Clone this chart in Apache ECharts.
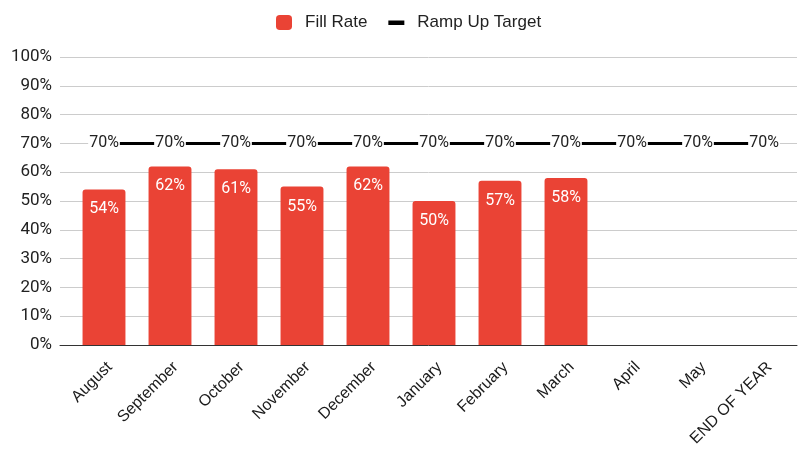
<!DOCTYPE html>
<html>
<head>
<meta charset="utf-8">
<script src="https://cdn.jsdelivr.net/npm/echarts@6/dist/echarts.min.js"></script>
<style>
  html, body { margin: 0; padding: 0; background: #fff; }
  #container { width: 798px; height: 451px; }
</style>
</head>
<body>
<div id="container"></div>
<script>
var months = ['August', 'September', 'October', 'November', 'December', 'January',
  'February', 'March', 'April', 'May', 'END OF YEAR'];
var fillRate = [54, 62, 61, 55, 62, 50, 57, 58, null, null, null];
var rampTarget = [70, 70, 70, 70, 70, 70, 70, 70, 70, 70, 70];
var yTicks = [0, 10, 20, 30, 40, 50, 60, 70, 80, 90, 100];

var dom = document.getElementById('container');
var myChart = echarts.init(dom);

var yMin = yTicks[0];
var yMax = yTicks[yTicks.length - 1];

var option = {
  animation: false,
  legend: {
    top: 9,
    left: 271,
    itemGap: 21,
    itemWidth: 16,
    itemHeight: 15,
    textStyle: {
      fontFamily: 'Liberation Sans',
      fontSize: 17,
      color: '#222',
      padding: [0, 0, 0, 8]
    },
    data: [
      { name: 'Fill Rate', icon: 'roundRect' },
      {
        name: 'Ramp Up Target',
        // thick short dash, padded so it is not stretched to a square
        icon: 'path://M0,0 L0,0 M0,5.5 L16,5.5 L16,10 L0,10 Z M16,15 L16,15',
        itemStyle: { color: '#000' }
      }
    ]
  },
  grid: [
    { left: 60, right: 1, top: 57, bottom: 106 }, // gridlines + axis line
    { left: 71, right: 1, top: 57, bottom: 106 }  // the data
  ],
  xAxis: [
    {
      gridIndex: 0,
      type: 'value',
      min: 0,
      max: 1,
      axisLabel: { show: false },
      axisTick: { show: false },
      splitLine: { show: false },
      axisLine: { show: true, lineStyle: { color: '#333', width: 1 } }
    },
    {
      gridIndex: 1,
      type: 'category',
      data: months,
      axisTick: { show: false },
      axisLine: { show: false },
      axisLabel: {
        rotate: 45,
        interval: 0,
        margin: 14,
        verticalAlign: 'top',
        fontFamily: 'Liberation Sans',
        fontSize: 16,
        color: '#1a1a1a'
      }
    }
  ],
  yAxis: [
    {
      gridIndex: 0,
      type: 'value',
      min: yMin,
      max: yMax,
      interval: 10,
      axisLine: { show: false },
      axisTick: { show: false },
      splitLine: { lineStyle: { color: '#ccc' } },
      axisLabel: {
        margin: 8,
        fontFamily: 'Roboto',
        fontSize: 17,
        color: '#222',
        formatter: '{value}%'
      }
    },
    {
      gridIndex: 1,
      type: 'value',
      min: yMin,
      max: yMax,
      interval: 10,
      show: false
    }
  ],
  series: [
    {
      name: 'Fill Rate',
      type: 'bar',
      xAxisIndex: 1,
      yAxisIndex: 1,
      data: fillRate,
      barWidth: '65%',
      itemStyle: { color: '#ea4335', borderRadius: [3, 3, 0, 0] },
      label: {
        show: true,
        position: 'insideTop',
        distance: 12,
        color: '#fff',
        fontFamily: 'Roboto',
        fontSize: 16,
        formatter: '{c}%'
      }
    },
    {
      name: 'Ramp Up Target',
      type: 'line',
      xAxisIndex: 1,
      yAxisIndex: 1,
      data: rampTarget,
      symbol: 'circle',
      symbolSize: 1,
      showSymbol: true,
      itemStyle: { color: 'rgba(0,0,0,0)' },
      lineStyle: { color: '#000', width: 3 },
      z: 5,
      label: {
        show: true,
        position: 'inside',
        color: '#222',
        fontFamily: 'Roboto',
        fontSize: 16,
        backgroundColor: '#fff',
        padding: [1, 1],
        formatter: '{c}%'
      }
    }
  ]
};

if (option && typeof option === 'object') {
  myChart.setOption(option);
}
</script>
</body>
</html>
